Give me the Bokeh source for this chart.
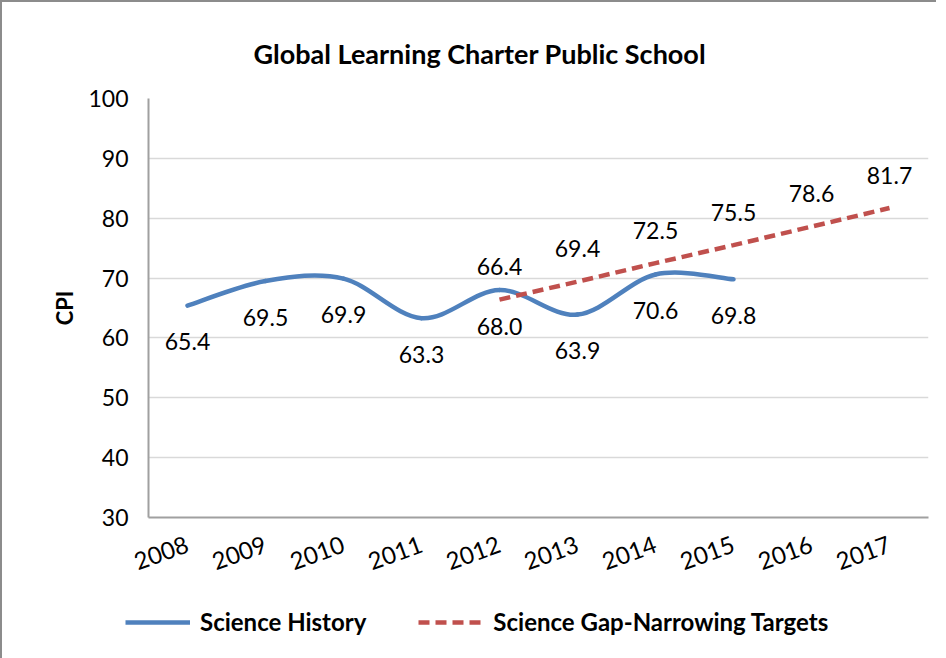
import math
from bokeh.plotting import figure
from bokeh.layouts import column
from bokeh.models import (Range1d, FixedTicker, Legend, LegendItem, ColumnDataSource, Title)
from bokeh.core.properties import value
from bokeh.embed import file_html
from bokeh.resources import INLINE

# ---- data ----
years = ["2008", "2009", "2010", "2011", "2012", "2013", "2014", "2015", "2016", "2017"]
history_years = ["2008", "2009", "2010", "2011", "2012", "2013", "2014", "2015"]
history_vals = [65.4, 69.5, 69.9, 63.3, 68.0, 63.9, 70.6, 69.8]
target_years = ["2012", "2013", "2014", "2015", "2016", "2017"]
target_vals = [66.4, 69.4, 72.5, 75.5, 78.6, 81.7]
y_ticks = [30, 40, 50, 60, 70, 80, 90, 100]

title_text = "Global Learning Charter Public School"
y_title = "CPI"
name_history = "Science History"
name_target = "Science Gap-Narrowing Targets"

FONT = "Lato"
BLUE = "#4f81bd"
RED = "#c0504d"
DASH = "11 6"

pos = {y: i + 0.5 for i, y in enumerate(years)}
hx = [pos[y] for y in history_years]
tx = [pos[y] for y in target_years]

p = figure(frame_width=778, frame_height=417, output_backend="svg", toolbar_location=None,
           x_range=Range1d(0, len(years)), y_range=Range1d(30, 100),
           min_border_left=146, min_border_top=96, min_border_right=10,
           min_border_bottom=90)
p.outline_line_color = None
p.background_fill_color = "white"
p.border_fill_color = "white"
p.styles = {"border-left": "2px solid #8c8c8c", "border-top": "2px solid #8c8c8c"}

# title
p.title = Title(text=title_text, align="left", offset=105, standoff=57,
                text_font=FONT, text_font_size="27px", text_font_style="bold",
                text_color="black")

# axes
p.xaxis.ticker = FixedTicker(ticks=list(pos.values()))
p.xaxis.major_label_overrides = {pos[y]: y for y in years}
p.xaxis.major_label_orientation = 0.35
p.xaxis.major_label_text_font = FONT
p.xaxis.major_label_text_font_size = "24px"
p.xaxis.major_label_text_color = "black"
p.xaxis.major_label_standoff = 26
p.yaxis.ticker = FixedTicker(ticks=y_ticks)
p.yaxis.major_label_text_font = FONT
p.yaxis.major_label_text_font_size = "23px"
p.yaxis.major_label_text_color = "black"
p.yaxis.major_label_standoff = 20
p.yaxis.axis_label = y_title
p.yaxis.axis_label_text_font = FONT
p.yaxis.axis_label_text_font_size = "22px"
p.yaxis.axis_label_text_font_style = "bold"
p.yaxis.axis_label_text_color = "black"
p.yaxis.axis_label_standoff = 7
for ax in (p.xaxis, p.yaxis):
    ax.major_tick_line_color = None
    ax.minor_tick_line_color = None
    ax.major_tick_out = 0
    ax.major_tick_in = 0
    ax.minor_tick_out = 0
    ax.axis_line_color = "#a0a0a0"
    ax.axis_line_width = 2
p.xgrid.grid_line_color = None
p.ygrid.grid_line_color = "#d9d9d9"
p.ygrid.grid_line_width = 1.5


def smooth_segments(xs, ys):
    # Bezier control points (Catmull-Rom style smoothing as in spreadsheet charts)
    n = len(xs)
    segs = {"x0": [], "y0": [], "x1": [], "y1": [], "cx0": [], "cy0": [], "cx1": [], "cy1": []}
    for i in range(n - 1):
        p0 = (xs[i - 1], ys[i - 1]) if i > 0 else (xs[i], ys[i])
        p1 = (xs[i], ys[i])
        p2 = (xs[i + 1], ys[i + 1])
        p3 = (xs[i + 2], ys[i + 2]) if i + 2 < n else p2
        segs["x0"].append(p1[0]); segs["y0"].append(p1[1])
        segs["x1"].append(p2[0]); segs["y1"].append(p2[1])
        segs["cx0"].append(p1[0] + (p2[0] - p0[0]) / 6)
        segs["cy0"].append(p1[1] + (p2[1] - p0[1]) / 6)
        segs["cx1"].append(p2[0] - (p3[0] - p1[0]) / 6)
        segs["cy1"].append(p2[1] - (p3[1] - p1[1]) / 6)
    return segs


hist_src = ColumnDataSource(smooth_segments(hx, history_vals))
p.bezier(x0="x0", y0="y0", x1="x1", y1="y1", cx0="cx0", cy0="cy0", cx1="cx1", cy1="cy1",
         source=hist_src, line_color=BLUE, line_width=4.5, line_cap="round")
p.line(tx, target_vals, line_color=RED, line_width=4.5, line_dash=DASH)

# data labels
p.text(hx, history_vals, text=[f"{v:.1f}" for v in history_vals], y_offset=36,
       text_align="center", text_baseline="middle", text_font=value(FONT),
       text_font_size="23px", text_color="black")
p.text(tx, target_vals, text=[f"{v:.1f}" for v in target_vals], y_offset=-33,
       text_align="center", text_baseline="middle", text_font=value(FONT),
       text_font_size="23px", text_color="black")

# ---- legend strip (separate small figure under the chart) ----
lg = figure(width=934, height=53, output_backend="svg", toolbar_location=None,
            x_range=Range1d(0, 1), y_range=Range1d(0, 1),
            x_axis_type=None, y_axis_type=None,
            min_border_left=0, min_border_right=0, min_border_top=0, min_border_bottom=0)
lg.outline_line_color = None
lg.grid.visible = False
lg.background_fill_color = "white"
lg.border_fill_color = "white"
lg.styles = {"border-left": "2px solid #8c8c8c"}
# the series drawn again here fall outside this strip's ranges: only their legend swatches show
leg_blue = lg.line(hx, history_vals, line_color=BLUE, line_width=4.5)
leg_red = lg.line(tx, target_vals, line_color=RED, line_width=4.5, line_dash=DASH)

legend_x = 0
if "frame_align" in lg.properties():
    lg.frame_align = False
    p.frame_align = False
    legend_x = 123

legend = Legend(items=[LegendItem(label=name_history, renderers=[leg_blue]),
                       LegendItem(label=name_target, renderers=[leg_red])],
                orientation="horizontal", location=(legend_x, 22))
legend.glyph_width = 65
legend.glyph_height = 22
legend.label_height = 22
legend.label_standoff = 10
legend.spacing = 52
legend.padding = 0
legend.margin = 0
legend.border_line_color = None
legend.background_fill_alpha = 0
legend.label_text_font = FONT
legend.label_text_font_size = "24px"
legend.label_text_font_style = "bold"
legend.label_text_color = "black"
lg.add_layout(legend, "center")

layout = column(p, lg, spacing=0)
open("out.html", "w").write(file_html(layout, INLINE))
